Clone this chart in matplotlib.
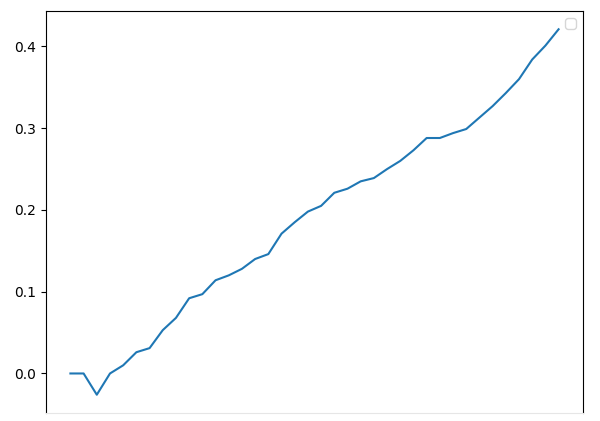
import numpy as np
import matplotlib
matplotlib.use("Agg")
import matplotlib.pyplot as plt

# values, one per step
steps = np.arange(38)
values = [0.0, 0.0, -0.026, 0.0, 0.010, 0.026, 0.031, 0.053, 0.068, 0.092,
          0.097, 0.114, 0.120, 0.128, 0.140, 0.146, 0.171, 0.185, 0.198, 0.205,
          0.221, 0.226, 0.235, 0.239, 0.250, 0.260, 0.273, 0.288, 0.288, 0.294,
          0.299, 0.313, 0.327, 0.343, 0.360, 0.384, 0.401, 0.421]
yticks = [0.0, 0.1, 0.2, 0.3, 0.4]

fig = plt.figure(figsize=(6.0, 4.21), dpi=100)
ax = fig.add_axes([46 / 600, 1 - 413 / 421, (583 - 46) / 600, (413 - 11) / 421])
ax.plot(steps, values, color="#1f77b4", linewidth=1.5)
ax.set_yticks(yticks)
ax.set_xticks([])
ax.spines["bottom"].set_color("#e6e6e6")
ax.legend()

fig.savefig("out.png", dpi=100)
